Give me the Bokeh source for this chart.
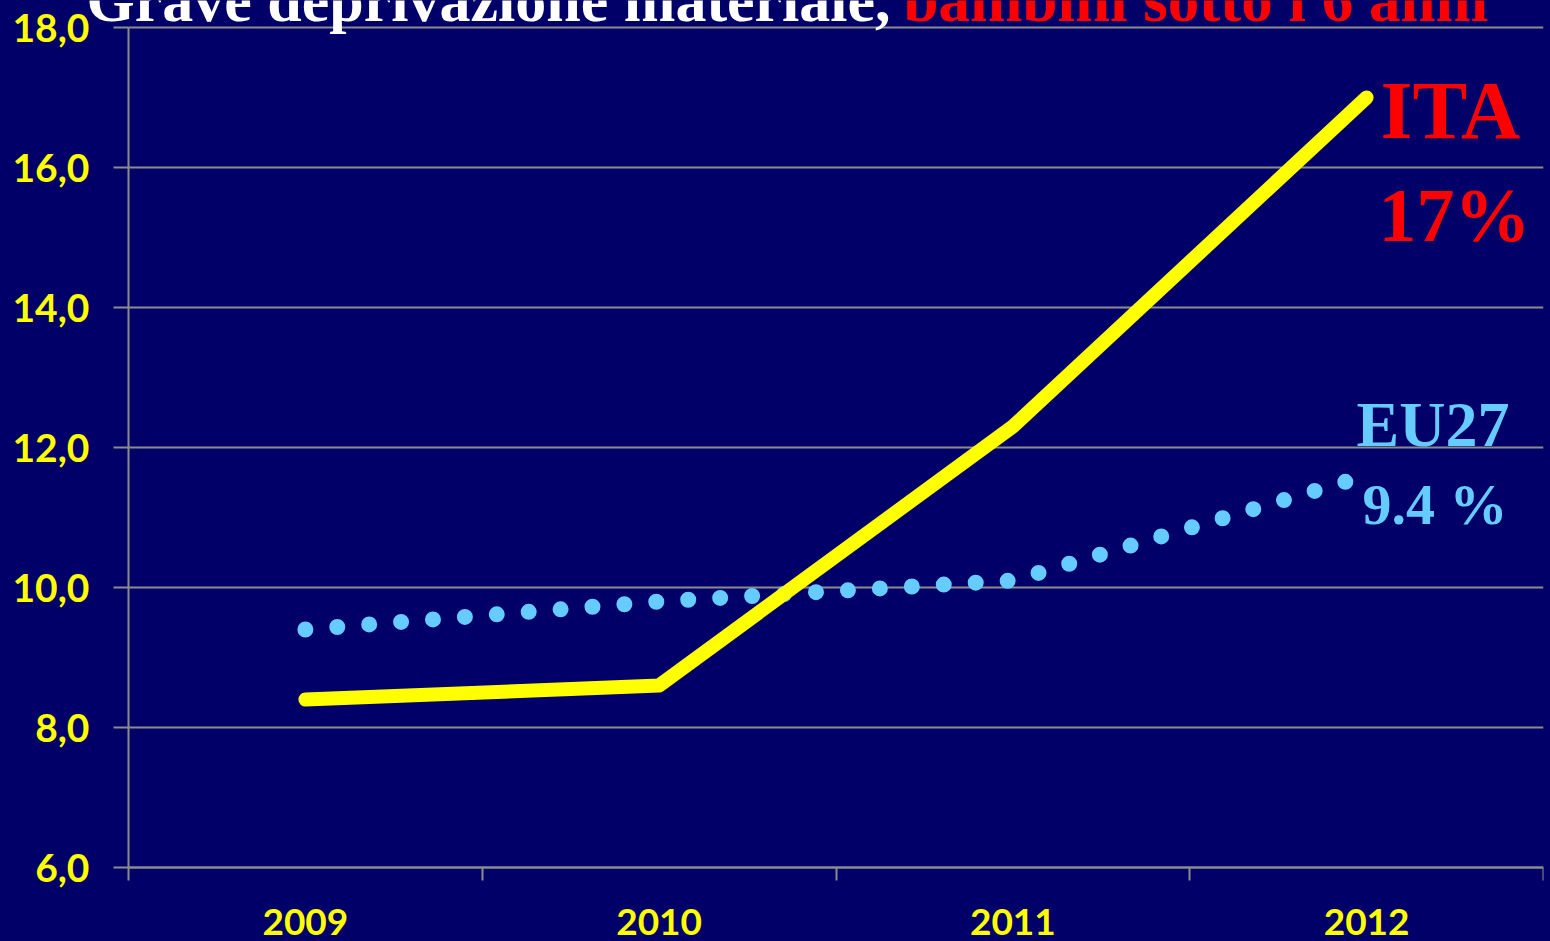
from bokeh.plotting import figure
from bokeh.models import Range1d, FixedTicker, Label
from bokeh.embed import file_html
from bokeh.resources import INLINE

# ---- data ----
years = ["2009", "2010", "2011", "2012"]
ita = [8.4, 8.6, 12.3, 17.0]
eu27 = [9.4, 9.8, 10.1, 11.6]
y_ticks = [6, 8, 10, 12, 14, 16, 18]
y_tick_labels = ["6,0", "8,0", "10,0", "12,0", "14,0", "16,0", "18,0"]
title_white = "Grave deprivazione materiale, "
title_red = "bambini sotto i 6 anni"
ita_label = ["ITA", "17%"]
eu_label = ["EU27", "9.4 %"]

BG = "#000068"
GRID = "#8C8C8C"
YELLOW = "#FFFF00"
RED = "#FF0000"
LIGHTBLUE = "#66CCFF"

# layout constants (pixels)
W, H = 1550, 941
FRAME_L, FRAME_R, FRAME_T, FRAME_B = 128, 1543, 27, 867
n = len(years)
px_per_x = (FRAME_R - FRAME_L) / n
px_per_y = (FRAME_B - FRAME_T) / (y_ticks[-1] - y_ticks[0])

xs = [i + 0.5 for i in range(n)]

# the frame is extended to the canvas edges (top, left, bottom) so that the
# title and the axis labels can sit in it; the axes are fixed at x=0 / y=6
x_start = -FRAME_L / px_per_x
y_end = y_ticks[-1] + FRAME_T / px_per_y
y_start = y_ticks[0] - (H - FRAME_B) / px_per_y

p = figure(width=W, height=H, output_backend="svg", toolbar_location=None,
           x_range=Range1d(x_start, n), y_range=Range1d(y_start, y_end),
           min_border_left=0, min_border_right=W - FRAME_R, min_border_top=0,
           min_border_bottom=0)
p.background_fill_color = BG
p.border_fill_color = BG
p.outline_line_color = None

# grid
p.xgrid.grid_line_color = None
p.ygrid.grid_line_color = GRID
p.ygrid.grid_line_width = 2
p.ygrid.ticker = FixedTicker(ticks=y_ticks)
try:
    p.ygrid.cross_bounds = (0, n)
except Exception:
    p.ygrid.grid_line_color = None
    p.segment(x0=0, x1=n, y0=y_ticks, y1=y_ticks, line_color=GRID, line_width=2, level="underlay")

# y axis (fixed at x = 0)
p.yaxis.fixed_location = 0
p.yaxis.bounds = (y_ticks[0], y_ticks[-1])
p.yaxis.ticker = FixedTicker(ticks=y_ticks)
p.yaxis.major_label_overrides = {t: l for t, l in zip(y_ticks, y_tick_labels)}
p.yaxis.axis_line_color = GRID
p.yaxis.axis_line_width = 2
p.yaxis.major_tick_line_color = GRID
p.yaxis.major_tick_line_width = 2
p.yaxis.major_tick_out = 15
p.yaxis.major_tick_in = 0
p.yaxis.minor_tick_line_color = None
p.yaxis.major_label_text_color = YELLOW
p.yaxis.major_label_text_font = "Lato"
p.yaxis.major_label_text_font_style = "bold"
p.yaxis.major_label_text_font_size = "39px"
p.yaxis.major_label_standoff = 24

# x axis (fixed at y = 6)
p.xaxis.fixed_location = y_ticks[0]
p.xaxis.bounds = (0, n)
p.xaxis.ticker = FixedTicker(ticks=xs, minor_ticks=list(range(n + 1)))
p.xaxis.major_label_overrides = {x: y for x, y in zip(xs, years)}
p.xaxis.axis_line_color = GRID
p.xaxis.axis_line_width = 2
p.xaxis.major_tick_line_color = None
p.xaxis.major_tick_out = 0
p.xaxis.major_tick_in = 0
p.xaxis.minor_tick_line_color = GRID
p.xaxis.minor_tick_line_width = 2
p.xaxis.minor_tick_out = 13
p.xaxis.minor_tick_in = 0
p.xaxis.major_label_text_color = YELLOW
p.xaxis.major_label_text_font = "Lato"
p.xaxis.major_label_text_font_style = "bold"
p.xaxis.major_label_text_font_size = "37px"
p.xaxis.major_label_standoff = 28

# series
p.line(xs, eu27, line_color=LIGHTBLUE, line_width=16, line_dash="0 32", line_cap="round")
p.line(xs, ita, line_color=YELLOW, line_width=14, line_cap="round", line_join="round")

# helpers: reference pixel position -> data coordinates
def px_to_x(px):
    return (px - FRAME_L) / px_per_x

def py_to_y(py):
    return y_ticks[0] + (FRAME_B - py) / px_per_y

def add_text(text, left, baseline, size, color, bold=True):
    # Bokeh places 'alphabetic' labels ~0.38em low; compensate with y_offset
    p.add_layout(Label(x=px_to_x(left), y=py_to_y(baseline), y_offset=round(0.38 * size),
                       text=text, text_color=color, text_font="Liberation Serif",
                       text_font_style="bold" if bold else "normal",
                       text_font_size="%dpx" % size, text_align="left",
                       text_baseline="alphabetic"))

# title (partially cut at top, as in the reference)
add_text(title_white, 86, 23, 62, "white")
add_text(title_red, 903, 23, 63, RED)

# series labels
add_text(ita_label[0], 1380, 141, 82, RED)
add_text(ita_label[1], 1378, 243, 76, RED)
add_text(eu_label[0], 1356, 448, 64, LIGHTBLUE)
add_text(eu_label[1], 1362, 526, 58, LIGHTBLUE)

html = file_html(p, INLINE)
html = html.replace("<head>", "<head><style>html,body{background-color:%s;}</style>" % BG, 1)
open("out.html", "w").write(html)
